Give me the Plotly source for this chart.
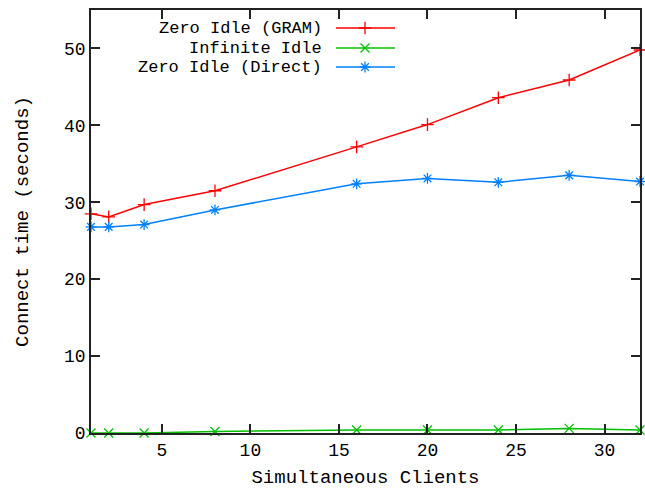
import plotly.graph_objects as go

clients = [1, 2, 4, 8, 16, 20, 24, 28, 32]
zero_idle_gram = [28.5, 28.1, 29.7, 31.5, 37.2, 40.1, 43.6, 45.9, 49.8]
infinite_idle = [0.0, 0.0, 0.0, 0.2, 0.4, 0.4, 0.4, 0.6, 0.4]
zero_idle_direct = [26.8, 26.8, 27.1, 29.0, 32.4, 33.1, 32.6, 33.5, 32.7]

series_names = ["Zero Idle (GRAM)", "Infinite Idle", "Zero Idle (Direct)"]
series_values = [zero_idle_gram, infinite_idle, zero_idle_direct]
colors = ["#ff0000", "#00c000", "#0080ff"]
symbols = ["cross-thin-open", "x-thin-open", "asterisk-open"]

x_ticks = [5, 10, 15, 20, 25, 30]
y_ticks = [0, 10, 20, 30, 40, 50]

FONT = "Liberation Mono"
W, H = 645, 489
L, R, T, B = 91, 5, 10, 56

fig = go.Figure()
for name, vals, c, s in zip(series_names, series_values, colors, symbols):
    fig.add_trace(go.Scatter(
        x=clients, y=vals, mode="lines+markers", name=name,
        line=dict(color=c, width=1.5),
        marker=dict(symbol=s, size=9, color=c, line=dict(color=c, width=1.3)),
        showlegend=False, cliponaxis=False,
    ))

# custom gnuplot-style legend (text right-aligned, sample to the right) on a pixel overlay axis
leg_rows = [28, 48, 67]
for name, c, s, yy in zip(series_names, colors, symbols, leg_rows):
    fig.add_trace(go.Scatter(
        x=[336, 365, 395], y=[yy, yy, yy], mode="lines", xaxis="x2", yaxis="y2",
        line=dict(color=c, width=1.5), showlegend=False, hoverinfo="skip",
    ))
    fig.add_trace(go.Scatter(
        x=[365], y=[yy], mode="markers", xaxis="x2", yaxis="y2",
        marker=dict(symbol=s, size=9, color=c, line=dict(color=c, width=1.3)),
        showlegend=False, hoverinfo="skip",
    ))
    fig.add_annotation(x=324, y=yy, xref="x2", yref="y2", text=name, showarrow=False,
                       xanchor="right", yanchor="middle",
                       font=dict(family=FONT, size=17, color="black"))

axis_common = dict(showgrid=False, zeroline=False, ticks="inside", ticklen=9, tickwidth=1.5,
                   tickcolor="#222", showline=True, linecolor="#222", linewidth=1.5,
                   mirror="ticks", automargin=False,
                   tickfont=dict(family=FONT, size=18, color="black"))

fig.update_layout(
    width=W, height=H, margin=dict(l=L, r=R, t=T, b=B),
    paper_bgcolor="white", plot_bgcolor="white",
    xaxis=dict(range=[1, 32], tickvals=x_ticks, ticktext=[str(v) for v in x_ticks],
               title=dict(text="Simultaneous Clients", font=dict(family=FONT, size=19, color="black"),
                          standoff=13), **axis_common),
    yaxis=dict(range=[0, 55], tickvals=y_ticks, ticktext=[str(v) for v in y_ticks],
               title=dict(text="Connect time (seconds)", font=dict(family=FONT, size=19, color="black"),
                          standoff=30), **axis_common),
    xaxis2=dict(overlaying="x", range=[L, W - R], visible=False, fixedrange=True),
    yaxis2=dict(overlaying="y", range=[H - B, T], visible=False, fixedrange=True),
)

fig.write_html("out.html")
